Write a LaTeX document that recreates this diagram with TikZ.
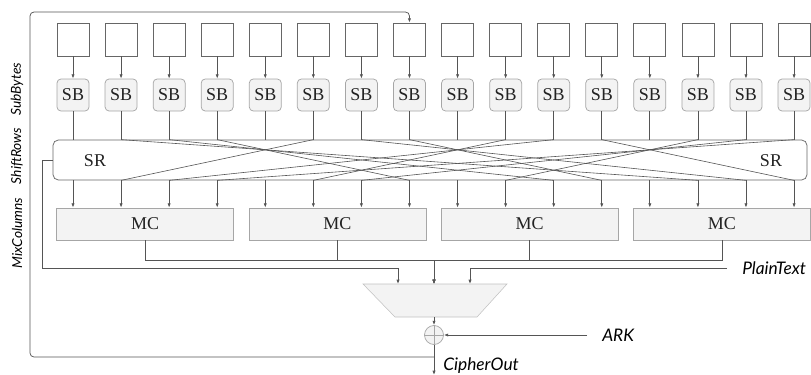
\documentclass[tikz,border=0pt]{standalone}
\usepackage{fontspec}
\setmainfont{Liberation Serif}
\newfontfamily\lato{Lato}
\usetikzlibrary{arrows.meta}
\definecolor{ln}{HTML}{555555}
\definecolor{bx}{HTML}{666666}
\definecolor{lbx}{HTML}{A6A6A6}
\definecolor{fl}{HTML}{F3F3F3}
\definecolor{tx}{HTML}{222222}
\tikzset{
  wire/.style={draw=ln, line width=0.55pt},
  arr/.style={wire, -{Latex[length=3.2pt,width=2.4pt]}},
  topbox/.style={draw=bx, fill=white, line width=0.55pt, minimum width=24pt, minimum height=24.75pt, inner sep=0pt},
  sbbox/.style={draw=lbx, fill=fl, line width=0.55pt, rounded corners=3pt, minimum width=24pt, minimum height=24pt, inner sep=0pt, font=\fontsize{13.5}{15}\selectfont, text=tx},
  srbox/.style={draw=bx, fill=white, line width=0.55pt, rounded corners=4pt, minimum width=565.5pt, minimum height=30pt, inner sep=0pt},
  mcbox/.style={draw=lbx, fill=fl, line width=0.55pt, minimum width=132.75pt, minimum height=24pt, inner sep=0pt, font=\fontsize{13.5}{15}\selectfont, text=tx},
  lbl/.style={font=\lato\itshape\fontsize{13}{15}\selectfont, text=black, inner sep=0pt},
  sidelbl/.style={font=\lato\itshape\fontsize{10.3}{12}\selectfont, text=black, inner sep=0pt, rotate=90},
  txt/.style={font=\fontsize{13.5}{15}\selectfont, text=tx, inner sep=0pt},
}
\begin{document}
\begin{tikzpicture}[x=0.75pt, y=-0.75pt]
\useasboundingbox (0,0) rectangle (811,375);
% side labels
\node[sidelbl] (lsb) at (17,89) {SubBytes};
\node[sidelbl] (lsr) at (17,156) {ShiftRows};
\node[sidelbl] (lmc) at (17,233) {MixColumns};
% shift rows box
\node[srbox] (sr) at (430,160) {};
\node[txt] (srl) at (95,161) {SR};
\node[txt] (srr) at (771,161) {SR};
% columns
\foreach \i in {0,...,15} {
  \pgfmathsetmacro\xc{73+48.07*\i}
  \node[topbox] (t\i) at (\xc,39.5) {};
  \node[sbbox] (sb\i) at (\xc,95) {SB};
  \draw[arr] (t\i.south) -- (sb\i.north);
}
% mix columns
\foreach \k in {0,...,3} {
  \pgfmathsetmacro\xm{145.1+192.28*\k}
  \node[mcbox] (mc\k) at (\xm,224) {MC};
}
% wires SB -> SR, SR -> MC
\foreach \i in {0,...,15} {
  \pgfmathtruncatemacro\k{int(\i/4)}
  \draw[wire] (sb\i.south) -- (sb\i.south |- sr.north);
  \draw[arr] (sb\i.south |- sr.south) -- (sb\i.south |- mc\k.north);
}
% shift rows crossings
\foreach \j in {0,...,15} {
  \pgfmathtruncatemacro\r{mod(\j,4)}
  \pgfmathtruncatemacro\c{int(\j/4)}
  \pgfmathtruncatemacro\src{4*mod(\c+\r,4)+\r}
  \ifnum\r>0
    \draw[wire, line width=0.45pt] (sb\src.south |- sr.north) -- (sb\j.south |- sr.south);
  \fi
}
% mux
\coordinate (muxN) at (434,284);
\coordinate (muxL) at (398,284);
\coordinate (muxR) at (470,284);
\coordinate (muxS) at (434,317);
\fill[fl] (363,284) -- (507,284) -- (477,317) -- (395,317) -- cycle;
\draw[lbx!70, line width=0.4pt] (363,284) -- (507,284) -- (477,317) -- (395,317) -- cycle;
% MC outputs
\foreach \k in {0,...,3} {
  \draw[arr, rounded corners=0pt] (mc\k.south) -- (mc\k.south |- 0,260) -- (434,260) -- (muxN);
}
% SR feedback
\draw[arr] (sr.west) -- (42,160) -- (42,268) -- (398,268) -- (muxL);
% plaintext
\node[lbl, anchor=west] (pt) at (742,268) {PlainText};
\draw[arr] (pt.west) ++(-15,0) -- (470,268) -- (muxR);
% xor
\node[circle, draw=lbx, fill=fl, line width=0.55pt, minimum size=14.25pt, inner sep=0pt] (xor) at (434,335) {};
\draw[lbx, line width=0.45pt] (xor.north) -- (xor.south) (xor.west) -- (xor.east);
\draw[arr] (muxS) -- (xor.north);
\node[lbl, anchor=west] (ark) at (602,335) {ARK};
\draw[arr] (587,335) -- (xor.east);
% output
\coordinate (out) at (434,375);
\draw[arr] (xor.south) -- (out);
\node[lbl, anchor=west] (co) at (443,366) {CipherOut};
% feedback loop
\draw[arr, rounded corners=3pt] (434,357) -- (30,357) -- (30,12) -- (t7.north |- 0,12) -- (t7.north);
\end{tikzpicture}
\end{document}
